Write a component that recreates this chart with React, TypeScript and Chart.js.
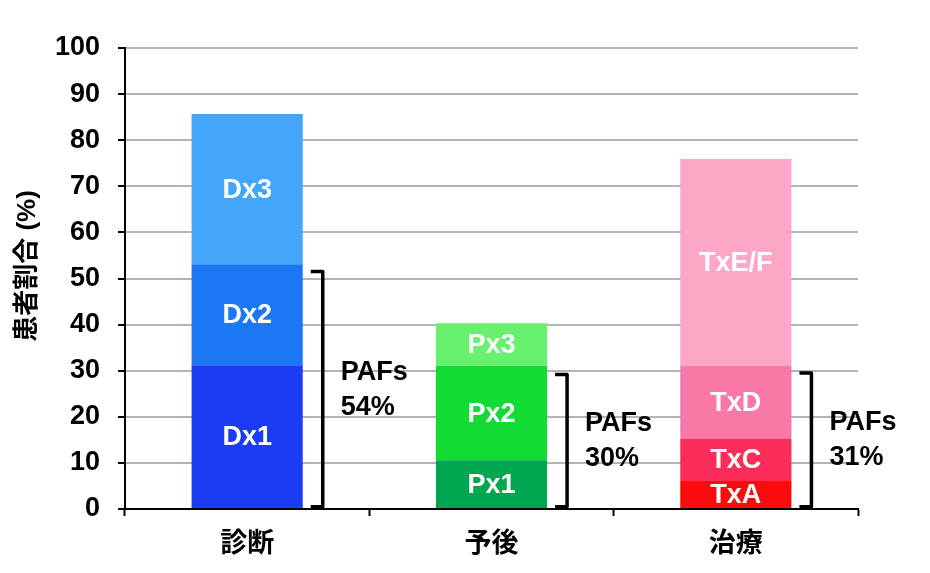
import React, { useEffect, useRef } from "react";
import { Chart, registerables, ChartConfiguration, Plugin } from "chart.js";

Chart.register(...registerables);

const categories = ["診断", "予後", "治療"];

// stacked layers, bottom to top; one value per category
const layer1Values = [31.2, 10.6, 6.1];
const layer2Values = [21.9, 20.4, 9.1];
const layer3Values = [32.6, 9.3, 15.8];
const layer4Values = [0, 0, 44.9];

const layer1Labels = ["Dx1", "Px1", "TxA"];
const layer2Labels = ["Dx2", "Px2", "TxC"];
const layer3Labels = ["Dx3", "Px3", "TxD"];
const layer4Labels = ["", "", "TxE/F"];

const layer1Colors = ["#1a3cf5", "#00a650", "#fb0a0e"];
const layer2Colors = ["#1a78f5", "#12dc33", "#fa2d5a"];
const layer3Colors = ["#42a6fa", "#68f06f", "#fa78a8"];
const layer4Colors = ["#ffffff", "#ffffff", "#fca7c8"];

// PAFs brackets
const pafBottom = [0.5, 0.5, 0.5];
const pafTop = [51.5, 29.2, 29.5];
const pafText = ["54%", "30%", "31%"];

const yTicks = [0, 10, 20, 30, 40, 50, 60, 70, 80, 90, 100];

const FONT = "'Liberation Sans', 'Noto Sans CJK JP', Arial, sans-serif";

const segmentLabels = [layer1Labels, layer2Labels, layer3Labels, layer4Labels];

const overlayPlugin: Plugin<"bar"> = {
  id: "overlay",
  afterDatasetsDraw(chart) {
    const { ctx } = chart;
    const yScale = chart.scales.y;
    ctx.save();

    // labels inside segments
    ctx.fillStyle = "#ffffff";
    ctx.font = `bold 27px ${FONT}`;
    ctx.textAlign = "center";
    ctx.textBaseline = "middle";
    chart.data.datasets.forEach((ds, di) => {
      const meta = chart.getDatasetMeta(di);
      meta.data.forEach((el: any, i) => {
        const text = segmentLabels[di][i];
        if (!text) return;
        const p = el.getProps(["x", "y", "base"], true);
        ctx.fillText(text, p.x, (p.y + p.base) / 2 + 1);
      });
    });

    // brackets and PAFs text
    const meta0 = chart.getDatasetMeta(0);
    meta0.data.forEach((el: any, i) => {
      const p = el.getProps(["x", "width"], true);
      const right = p.x + p.width / 2;
      const yTop = yScale.getPixelForValue(pafTop[i]);
      const yBot = yScale.getPixelForValue(pafBottom[i]);
      ctx.strokeStyle = "#000000";
      ctx.lineWidth = 3.5;
      ctx.lineJoin = "round";
      ctx.beginPath();
      ctx.moveTo(right + 8, yTop);
      ctx.lineTo(right + 20, yTop);
      ctx.lineTo(right + 20, yBot);
      ctx.lineTo(right + 8, yBot);
      ctx.stroke();

      const mid = (yTop + yBot) / 2;
      ctx.fillStyle = "#000000";
      ctx.textAlign = "left";
      ctx.fillText("PAFs", right + 38, mid - 17);
      ctx.fillText(pafText[i], right + 38, mid + 18);
    });

    // y-axis title
    ctx.save();
    ctx.translate(28, 266);
    ctx.rotate(-Math.PI / 2);
    ctx.font = `bold 26px ${FONT}`;
    ctx.textAlign = "center";
    ctx.fillStyle = "#000000";
    ctx.fillText("患者割合 (%)", 0, 0);
    ctx.restore();

    ctx.restore();
  },
};

const App: React.FC = () => {
  const chartRef = useRef<HTMLCanvasElement | null>(null);

  useEffect(() => {
    if (!chartRef.current) return;
    const ctx = chartRef.current.getContext("2d");
    if (!ctx) return;

    const layers = [layer1Values, layer2Values, layer3Values, layer4Values];
    const colors = [layer1Colors, layer2Colors, layer3Colors, layer4Colors];

    const config: ChartConfiguration<"bar"> = {
      type: "bar",
      data: {
        labels: categories,
        datasets: layers.map((vals, i) => ({
          label: `layer${i + 1}`,
          data: vals,
          backgroundColor: colors[i],
          borderWidth: 0,
          categoryPercentage: 1,
          barPercentage: 0.455,
        })),
      },
      options: {
        animation: false,
        responsive: true,
        maintainAspectRatio: false,
        layout: { padding: { top: 48, right: 72, left: 0, bottom: 0 } },
        plugins: {
          legend: { display: false },
          tooltip: { enabled: false },
        },
        scales: {
          x: {
            stacked: true,
            grid: {
              offset: true,
              drawOnChartArea: false,
              drawTicks: true,
              tickLength: 7,
              tickColor: "#000000",
              tickWidth: 2,
            },
            border: { color: "#000000", width: 2 },
            ticks: {
              color: "#000000",
              padding: 12,
              font: { family: FONT, size: 27, weight: "bold" },
            },
            afterFit: (scale: any) => {
              scale.height = 64;
            },
          },
          y: {
            stacked: true,
            min: 0,
            max: 100,
            afterBuildTicks: (scale: any) => {
              scale.ticks = yTicks.map((v) => ({ value: v }));
            },
            grid: {
              color: "#b4b4b4",
              lineWidth: 2,
              drawTicks: true,
              tickLength: 7,
              tickColor: "#000000",
              tickWidth: 2,
            },
            border: { color: "#000000", width: 2 },
            ticks: {
              color: "#000000",
              padding: 18,
              font: { family: FONT, size: 27, weight: "bold" },
            },
            afterFit: (scale: any) => {
              scale.width = 125;
            },
          },
        },
      },
      plugins: [overlayPlugin],
    };

    const chartInstance = new Chart(ctx, config);
    return () => {
      chartInstance.destroy();
    };
  }, []);

  return (
    <div style={{ position: "absolute", left: 0, top: 0, width: 930, height: 573, background: "#ffffff" }}>
      <canvas ref={chartRef} />
    </div>
  );
};

export default App;
